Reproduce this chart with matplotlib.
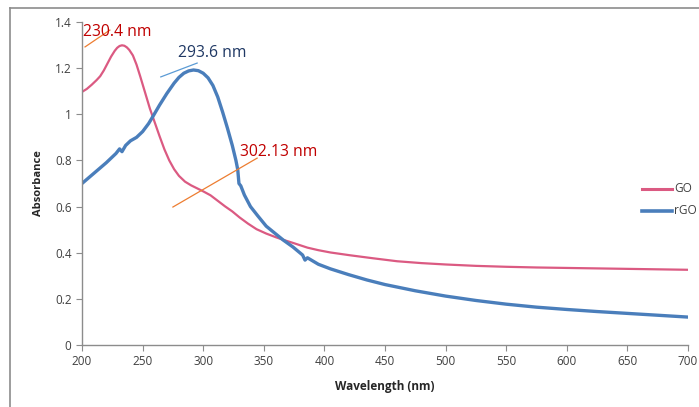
import matplotlib
matplotlib.use("Agg")
import matplotlib.pyplot as plt
from matplotlib.lines import Line2D

# GO spectrum (wavelength nm, absorbance)
go_wl = [200, 204, 208, 212, 215, 218, 221, 224, 227, 229, 231, 233, 235, 237, 239, 242, 245, 248, 252, 256, 260,
         264, 268, 272, 276, 280, 285, 290, 295, 300, 306, 311, 318, 324, 330, 337, 344, 352, 360, 366, 375, 386,
         395, 405, 421, 440, 460, 480, 500, 525, 550, 575, 600, 625, 650, 675, 700]
go_abs = [1.097, 1.11, 1.128, 1.148, 1.165, 1.19, 1.22, 1.25, 1.275, 1.288, 1.296, 1.299, 1.297, 1.29, 1.279, 1.255,
          1.215, 1.165, 1.095, 1.025, 0.965, 0.905, 0.848, 0.8, 0.762, 0.733, 0.708, 0.692, 0.679, 0.666, 0.649,
          0.629, 0.601, 0.579, 0.553, 0.526, 0.502, 0.483, 0.467, 0.456, 0.441, 0.422, 0.411, 0.401, 0.389,
          0.376, 0.363, 0.355, 0.349, 0.343, 0.339, 0.336, 0.334, 0.332, 0.33, 0.328, 0.326]

# rGO spectrum (wavelength nm, absorbance)
rgo_wl = [200, 210, 220, 228, 231, 233, 236, 240, 245, 250, 255, 259, 264, 270, 276, 280, 284, 288, 292, 296, 300,
          304, 308, 312, 316, 320, 324, 327, 328.5, 329.5, 331, 334, 339, 345, 352, 359, 366, 374, 382, 384, 386,
          395, 405, 420, 435, 450, 475, 500, 525, 550, 575, 600, 625, 650, 675, 700]
rgo_abs = [0.70, 0.745, 0.79, 0.83, 0.85, 0.838, 0.865, 0.885, 0.9, 0.925, 0.96, 0.995, 1.04, 1.09, 1.135, 1.16,
           1.178, 1.188, 1.192, 1.189, 1.178, 1.158, 1.125, 1.075, 1.01, 0.94, 0.865, 0.8, 0.76, 0.70, 0.69, 0.65,
           0.60, 0.56, 0.515, 0.485, 0.455, 0.425, 0.39, 0.368, 0.378, 0.35, 0.33, 0.305, 0.282, 0.262, 0.235,
           0.212, 0.193, 0.177, 0.164, 0.154, 0.145, 0.137, 0.129, 0.121]

x_ticks = [200, 250, 300, 350, 400, 450, 500, 550, 600, 650, 700]
y_ticks = [0, 0.2, 0.4, 0.6, 0.8, 1.0, 1.2, 1.4]
y_tick_labels = ["0", "0.2", "0.4", "0.6", "0.8", "1", "1.2", "1.4"]

# annotations: (label, text x, text y, color, line x0, y0, x1, y1, line color)
annotations = [
    ("230.4 nm", 200.5, 1.357, "#C00000", 202.5, 1.292, 223, 1.365, "#ED7D31"),
    ("293.6 nm", 279, 1.266, "#1F3864", 265, 1.162, 295, 1.222, "#5B9BD5"),
    ("302.13 nm", 330, 0.837, "#C00000", 275, 0.598, 344.5, 0.81, "#ED7D31"),
]

plt.rcParams['font.family'] = ['Open Sans', 'DejaVu Sans']

fig = plt.figure(figsize=(6.99, 4.07), dpi=100)
ax = fig.add_axes([82/699, 1-345/407, (688-82)/699, (345-22)/407])

go_color = "#DB5A82"
rgo_color = "#4A7EBB"
ax.plot(go_wl, go_abs, color=go_color, lw=1.6, solid_joinstyle='round')
ax.plot(rgo_wl, rgo_abs, color=rgo_color, lw=2.4, solid_joinstyle='round')

for lab, tx, ty, tc, x0, y0, x1, y1, lc in annotations:
    ax.plot([x0, x1], [y0, y1], color=lc, lw=0.9)
    ax.text(tx, ty, lab, color=tc, fontsize=11.3, va='center', ha='left')

ax.set_xlim(200, 700)
ax.set_ylim(0, 1.4)
ax.set_xticks(x_ticks)
ax.set_yticks(y_ticks)
ax.set_yticklabels(y_tick_labels)
for s in ['top', 'right']:
    ax.spines[s].set_visible(False)
for s in ['left', 'bottom']:
    ax.spines[s].set_color('#8C8C8C')
    ax.spines[s].set_linewidth(1.0)
ax.tick_params(axis='both', direction='out', length=4, color='#8C8C8C', labelsize=8.5, labelcolor='#404040')
ax.tick_params(axis='x', pad=3)
ax.set_xlabel("Wavelength (nm)", fontsize=8.5, fontweight='bold', color='#262626', labelpad=9)
ax.set_ylabel("Absorbance", fontsize=8, fontweight='bold', color='#262626', labelpad=8)

# legend (partially cut at right edge)
fig.add_artist(Line2D([642/699, 672/699], [1-189/407, 1-189/407], color=go_color, lw=2.2))
fig.add_artist(Line2D([642/699, 672/699], [1-211/407, 1-211/407], color=rgo_color, lw=2.6))
fig.text(674/699, 1-189/407, "GO", fontsize=8.5, color='#404040', va='center', ha='left')
fig.text(674/699, 1-211/407, "rGO", fontsize=8.5, color='#404040', va='center', ha='left')

# outer frame lines
fig.add_artist(Line2D([10/699, 1], [1-7.5/407, 1-7.5/407], color='#8C8C8C', lw=1.2))
fig.add_artist(Line2D([10/699, 10/699], [0, 1-7.5/407], color='#8C8C8C', lw=1.2))

fig.savefig("out.png", dpi=100)
